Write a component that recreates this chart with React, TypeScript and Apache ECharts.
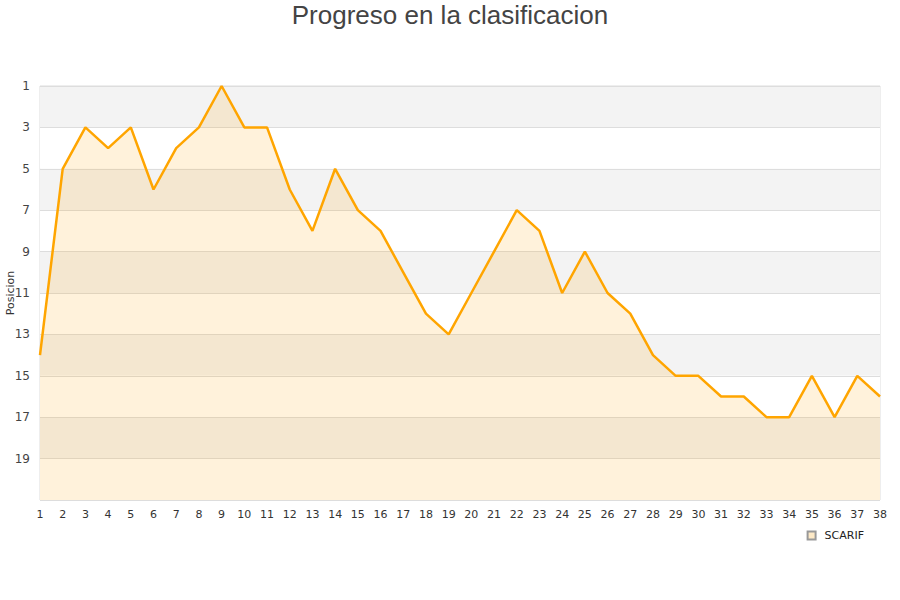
import React, { useEffect, useRef } from 'react';
import * as echarts from 'echarts';

const jornadas = Array.from({ length: 38 }, (_, i) => String(i + 1));
const posiciones = [
  14, 5, 3, 4, 3, 6, 4, 3, 1, 3,
  3, 6, 8, 5, 7, 8, 10, 12, 13, 11,
  9, 7, 8, 11, 9, 11, 12, 14, 15, 15,
  16, 16, 17, 17, 15, 17, 15, 16,
];
const equipo = 'SCARIF';

const App: React.FC = () => {
  const chartRef = useRef<HTMLDivElement>(null);

  useEffect(() => {
    if (!chartRef.current) return;
    document.body.style.margin = '0';
    const chart = echarts.init(chartRef.current, undefined, { renderer: 'svg' });

    const option: echarts.EChartsOption = {
      animation: false,
      textStyle: { fontFamily: 'DejaVu Sans' },
      title: {
        text: 'Progreso en la clasificacion',
        left: 'center',
        top: -3,
        textStyle: {
          fontFamily: 'Liberation Sans',
          fontSize: 26,
          fontWeight: 'normal',
          color: '#444'
        }
      },
      grid: {
        left: 40,
        right: 20,
        top: 86,
        bottom: 100,
        outerBoundsMode: 'none',
        show: true,
        borderColor: '#ddd',
        borderWidth: 1
      } as any,
      legend: {
        data: [equipo],
        right: 31,
        top: 525,
        icon: 'rect',
        itemWidth: 8,
        itemHeight: 8,
        textStyle: { fontSize: 11, color: '#222', padding: [0, 0, 0, 4] }
      },
      xAxis: {
        type: 'category',
        data: jornadas,
        boundaryGap: false,
        axisLine: { show: false },
        axisTick: { show: false },
        axisLabel: { fontSize: 11, color: '#333', margin: 9, interval: 0 },
        splitLine: { show: false }
      },
      yAxis: {
        type: 'value',
        inverse: true,
        min: 1,
        max: 21,
        interval: 2,
        name: 'Posicion',
        nameLocation: 'middle',
        nameGap: 24,
        nameMoveOverlap: false,
        nameTextStyle: { fontSize: 11, color: '#333' },
        axisLine: { show: false },
        axisTick: { show: false },
        axisLabel: {
          fontSize: 12,
          color: '#444',
          margin: 10,
          showMaxLabel: false
        },
        splitLine: { lineStyle: { color: '#ddd' } },
        splitArea: { show: true, areaStyle: { color: ['#f3f3f3', '#ffffff'] } }
      } as any,
      series: [
        {
          name: equipo,
          type: 'line',
          data: posiciones,
          showSymbol: false,
          symbol: 'none',
          lineStyle: { color: '#ffa500', width: 2.5 },
          itemStyle: { color: '#fde9c6', borderColor: '#999', borderWidth: 1 },
          areaStyle: { color: 'rgba(255,165,0,0.2)', origin: 'end' }
        }
      ]
    };

    chart.setOption(option);
    return () => chart.dispose();
  }, []);

  return <div ref={chartRef} style={{ width: 900, height: 600 }} />;
};

export default App;
